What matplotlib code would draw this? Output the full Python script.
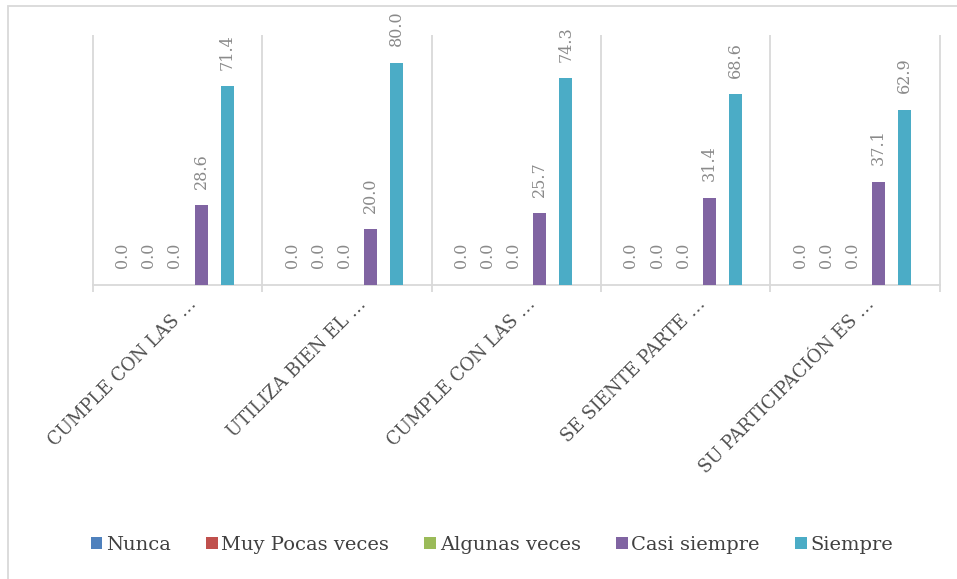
import numpy as np
import matplotlib.pyplot as plt
from matplotlib.patches import Rectangle
import matplotlib.transforms as mtransforms

# data
categories = ['CUMPLE CON LAS …', 'UTILIZA BIEN EL …', 'CUMPLE CON LAS …',
              'SE SIENTE PARTE …', 'SU PARTICIPACIÓN ES …']
series_names = ['Nunca', 'Muy Pocas veces', 'Algunas veces', 'Casi siempre', 'Siempre']
nunca = [0.0, 0.0, 0.0, 0.0, 0.0]
muy_pocas = [0.0, 0.0, 0.0, 0.0, 0.0]
algunas = [0.0, 0.0, 0.0, 0.0, 0.0]
casi_siempre = [28.6, 20.0, 25.7, 31.4, 37.1]
siempre = [71.4, 80.0, 74.3, 68.6, 62.9]
colors = ['#4f81bd', '#c0504d', '#9bbb59', '#8064a2', '#4bacc6']

plt.rcParams['font.family'] = ['DejaVu Serif']

fig = plt.figure(figsize=(9.57, 5.79), dpi=100)
ax = fig.add_axes([0.097, 0.508, 0.885, 0.432])

x = np.arange(len(categories))
bw = 0.077
step = 0.154
all_series = [nunca, muy_pocas, algunas, casi_siempre, siempre]

lab_off = mtransforms.offset_copy(ax.transData, fig=fig, x=0, y=12, units='points')
for i, vals in enumerate(all_series):
    pos = x + (i - 2) * step - 0.015
    ax.bar(pos, vals, width=bw, color=colors[i], label=series_names[i], zorder=3)
    for p, v in zip(pos, vals):
        ax.text(p, v, f'{v:.1f}', rotation=90, ha='center', va='bottom',
                fontsize=11.5, color='#8a8a8a', transform=lab_off)

ax.set_xlim(-0.5, len(categories) - 0.5)
ax.set_ylim(0, 90)

# category separators
ax.vlines(np.arange(len(categories) + 1) - 0.5, -2.5, 90, color='#d9d9d9',
          lw=1.3, clip_on=False, zorder=1)

for s in ['top', 'right', 'left']:
    ax.spines[s].set_visible(False)
ax.spines['bottom'].set_color('#d9d9d9')
ax.spines['bottom'].set_linewidth(1.3)
ax.set_yticks([])
ax.set_xticks(x)
ax.set_xticklabels(categories, rotation=45, ha='right', va='center',
                   rotation_mode='anchor', fontsize=13, color='#505050')
ax.tick_params(axis='x', length=0, pad=0)
shift = mtransforms.ScaledTranslation(12 / 72, -12 / 72, fig.dpi_scale_trans)
for lbl in ax.get_xticklabels():
    lbl.set_transform(lbl.get_transform() + shift)

fig.legend(loc='center', bbox_to_anchor=(0.514, 0.059), ncol=5, frameon=False,
           fontsize=14, handlelength=0.6, handleheight=0.6, handletextpad=0.2,
           columnspacing=1.8, labelcolor='#404040')

fig.patches.append(Rectangle((8 / 957, -0.01), 1.0, 1 - 6 / 579 + 0.01,
                             transform=fig.transFigure, fill=False,
                             edgecolor='#d9d9d9', lw=1.3))

fig.savefig('out.png', dpi=100)
